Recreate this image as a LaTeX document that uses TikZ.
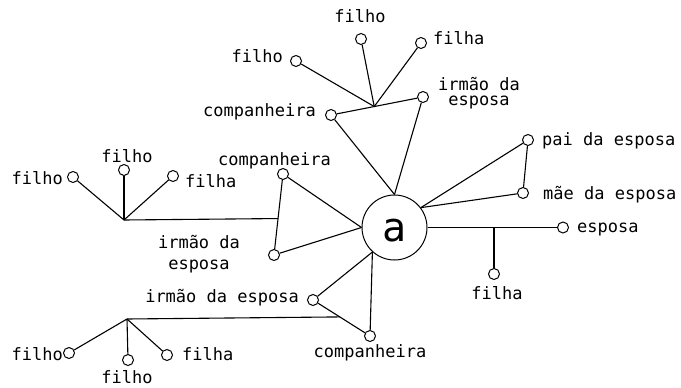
\documentclass[tikz,border=0pt]{standalone}
\usepackage{fontspec}
\newfontfamily\plotfont{DejaVu Sans Mono}
\usetikzlibrary{calc}

\begin{document}
\begin{tikzpicture}[x=1pt,y=-1pt,
  wire/.style={line width=1.1pt},
  dot/.style={circle,draw,line width=1pt,minimum size=11pt,inner sep=0pt},
  ego/.style={circle,draw,line width=1pt,minimum size=65pt,inner sep=0pt,
              text height=28pt,text depth=0pt,
              font=\plotfont\fontsize{40}{40}\selectfont},
  lbl/.style={inner sep=0pt,font=\plotfont\fontsize{17}{17}\selectfont}]
\useasboundingbox (0,0) rectangle (681,388);

% central person
\node[ego] (a) at (394.5,227.5) {a};

% --- upper group: companion, her brother and their children
\node[dot] (tc)  at (331,115) {};
\node[dot] (ti)  at (423,97)  {};
\node[dot] (tf1) at (296,61)  {};
\node[dot] (tf2) at (361,39)  {};
\node[dot] (tf3) at (421,43)  {};
\coordinate (tj) at ($(tc)!0.47!(ti)$);
\draw[wire] (tc) -- (a.90);
\draw[wire] (ti) -- (a.90);
\draw[wire] (tc) -- (ti);
\draw[wire] (tj) -- (tf1);
\draw[wire] (tj) -- (tf2);
\draw[wire] (tj) -- (tf3);
\node[lbl,anchor=base east] (ttf1) at (283,63) {filho};
\node[lbl,anchor=base] (ttf2) at (360,23) {filho};
\node[lbl,anchor=base west] (ttf3) at (433,44) {filha};
\node[lbl,anchor=base east] (ttc) at (316,116) {companheira};
\node[lbl,align=center,font=\plotfont\fontsize{17}{15}\selectfont] (tti) at (479,93) {irmão da\\esposa};

% --- left group
\node[dot] (lc)  at (283,174) {};
\node[dot] (li)  at (274,255) {};
\node[dot] (lf1) at (73,177)  {};
\node[dot] (lf2) at (124,170) {};
\node[dot] (lf3) at (173,176) {};
\coordinate (lj) at ($(lc)!0.55!(li)$);
\coordinate (lk) at (124,220);
\draw[wire] (lc) -- (a.180);
\draw[wire] (li) -- (a.180);
\draw[wire] (lc) -- (li);
\draw[wire] (lj) -- (lk);
\draw[wire] (lk) -- (lf1);
\draw[wire] (lk) -- (lf2);
\draw[wire] (lk) -- (lf3);
\node[lbl,anchor=base east] (tlf1) at (63,184) {filho};
\node[lbl,anchor=base] (tlf2) at (127,162) {filho};
\node[lbl,anchor=base west] (tlf3) at (185,187) {filha};
\node[lbl,anchor=base west] (tlc) at (218,165) {companheira};
\node[lbl,align=center,font=\plotfont\fontsize{17}{21}\selectfont] (tli) at (199,254) {irmão da\\esposa};

% --- right side: parents-in-law, wife and daughter
\node[dot] (rp) at (528,140) {};
\node[dot] (rm) at (523,193) {};
\node[dot] (re) at (563,227.5) {};
\node[dot] (rf) at (494,274) {};
\coordinate (rj) at (rf |- re);
\draw[wire] (rp) -- (a.37);
\draw[wire] (rm) -- (a.37);
\draw[wire] (rp) -- (rm);
\draw[wire] (a.east) -- (re);
\draw[wire] (rj) -- (rf);
\node[lbl,anchor=base west] (trp) at (542,145) {pai da esposa};
\node[lbl,anchor=base west] (trm) at (543,199) {mãe da esposa};
\node[lbl,anchor=base west] (tre) at (577,232) {esposa};
\node[lbl,anchor=base] (trf) at (497,299) {filha};

% --- lower group
\node[dot] (bi)  at (313,300) {};
\node[dot] (bc)  at (370,336) {};
\node[dot] (bf1) at (69,353)  {};
\node[dot] (bf2) at (128,360) {};
\node[dot] (bf3) at (167,355) {};
\coordinate (bj) at ($(bi)!0.47!(bc)$);
\coordinate (bk) at (127,319);
\draw[wire] (bi) -- (a.228);
\draw[wire] (bc) -- (a.228);
\draw[wire] (bi) -- (bc);
\draw[wire] (bj) -- (bk);
\draw[wire] (bk) -- (bf1);
\draw[wire] (bk) -- (bf2);
\draw[wire] (bk) -- (bf3);
\node[lbl,anchor=base east] (tbi) at (299,302) {irmão da esposa};
\node[lbl,anchor=base] (tbc) at (370,357) {companheira};
\node[lbl,anchor=base east] (tbf1) at (63,360) {filho};
\node[lbl,anchor=base] (tbf2) at (127,383) {filho};
\node[lbl,anchor=base west] (tbf3) at (182,360) {filha};
\end{tikzpicture}
\end{document}
